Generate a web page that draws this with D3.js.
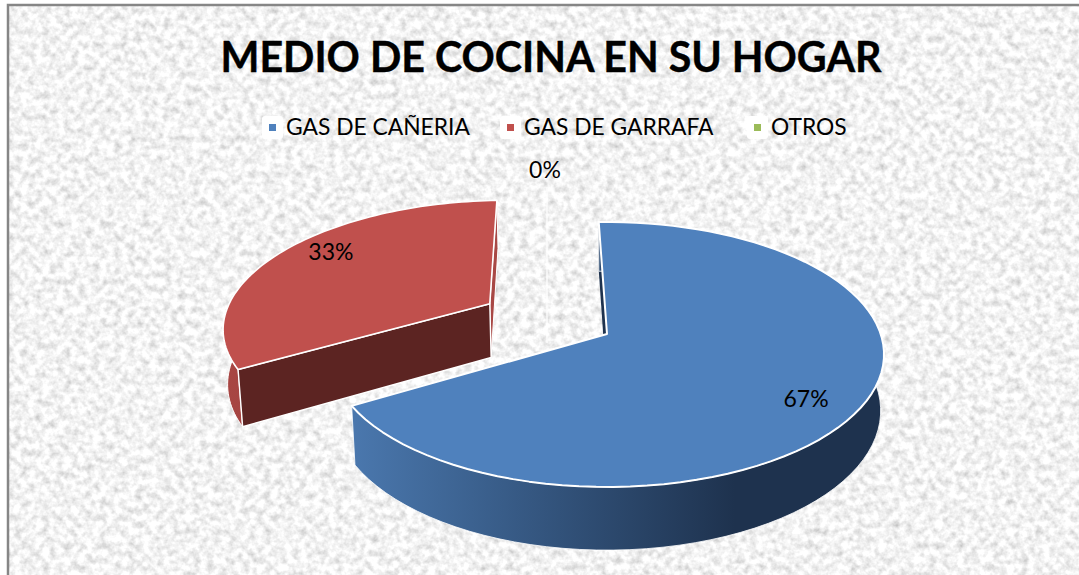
<!DOCTYPE html>
<html><head><meta charset="utf-8">
<script src="https://cdn.jsdelivr.net/npm/d3@7/dist/d3.min.js"></script>
<style>html,body{margin:0;padding:0;background:#fff;overflow:hidden}svg{display:block}text{font-family:Lato,"Open Sans",sans-serif;fill:#000}</style>
</head><body><svg id="c" width="1079" height="575"></svg>
<script>
const title = "MEDIO DE COCINA EN SU HOGAR";
const categories = ["GAS DE CAÑERIA","GAS DE GARRAFA","OTROS"];
const percents = [67,33,0];
const colors = ["#4f81bd","#c0504d","#9bbb59"];
const explode = [0,0.506,0];
const radii = [1,0.988,1];

const W=1079,H=575;
const svg=d3.select("#c");
const defs=svg.append("defs");
const f=defs.append("filter").attr("id","paper").attr("x",0).attr("y",0).attr("width","100%").attr("height","100%");
f.append("feTurbulence").attr("type","fractalNoise").attr("baseFrequency",0.14).attr("numOctaves",3).attr("seed",7);
f.append("feColorMatrix").attr("values","0.75 0 0 0 0.52  0.75 0 0 0 0.52  0.75 0 0 0 0.52  0 0 0 0 1");
const g1=defs.append("linearGradient").attr("id","blueWall").attr("gradientUnits","userSpaceOnUse").attr("x1",355).attr("x2",735).attr("y1",0).attr("y2",0);
g1.append("stop").attr("offset",0).attr("stop-color","#4a77ad");
g1.append("stop").attr("offset",0.35).attr("stop-color","#3a5f8c");
g1.append("stop").attr("offset",1).attr("stop-color","#1e324e");
const g2=defs.append("linearGradient").attr("id","redWall").attr("x1",0).attr("x2",1).attr("y1",0).attr("y2",0);
g2.append("stop").attr("offset",0).attr("stop-color","#a84643");
g2.append("stop").attr("offset",1).attr("stop-color","#8f3a38");

// chart area
svg.append("rect").attr("x",8).attr("y",5).attr("width",W-8).attr("height",H-5).attr("filter","url(#paper)");
svg.append("path").attr("d",`M8,${H}V5H${W}`).attr("fill","none").attr("stroke","#868686").attr("stroke-width",2.5);

// title
svg.append("text").attr("x",551).attr("y",72).attr("text-anchor","middle").attr("font-size",41.2).attr("font-weight",700).attr("stroke","#000").attr("stroke-width",0.4).style("fill","#000").text(title);

// legend
const legendX=d3.scaleOrdinal().domain(categories).range([262,500,747]);
const lg=svg.append("g").selectAll("g").data(categories).join("g").attr("transform",d=>`translate(${legendX(d)},116)`);
lg.append("rect").attr("width",21).attr("height",23).attr("rx",3).attr("fill","#fff");
lg.append("rect").attr("x",7).attr("y",8).attr("width",7).attr("height",7).attr("fill",(d,i)=>colors[i]);
lg.append("text").attr("x",24).attr("y",19).attr("font-size",22.8).text(d=>d);

// perspective pie
const cx=607,cy=334,A=273.7,B=129.3,D=56,k=0.1547,m=0.012;
const project=(X,Y,Z)=>{const w=1-k*Y+m*Z;return [cx+X*A/w,cy+(Y*B+Z*D)/w];};
const pie=d3.pie().sort(null).value(d=>d).startAngle(-2*Math.PI/180).endAngle(358*Math.PI/180);
const arcs=pie(percents);
const offset=(a,i)=>{const mid=(a.startAngle+a.endAngle)/2;return [explode[i]*Math.sin(mid),-explode[i]*Math.cos(mid)];};
const pt=(a,i,ang,r,Z)=>{const o=offset(a,i),R=r*radii[i];return project(o[0]+R*Math.sin(ang),o[1]-R*Math.cos(ang),Z);};
const line=d3.line();
const arcPts=(a,i,from,to,Z)=>d3.range(0,81).map(t=>pt(a,i,from+(to-from)*t/80,1,Z));
const g=svg.append("g").attr("stroke-linejoin","round");
function face(d,fill,sw){return g.append("path").attr("d",d).attr("fill",fill).attr("stroke","#fff").attr("stroke-width",sw);}

// red slice
{const a=arcs[1],i=1,s=a.startAngle,e=a.endAngle;
 const apexT=pt(a,i,s,0,0),apexB=pt(a,i,s,0,1);
 face(line([...arcPts(a,i,s,e,0),...arcPts(a,i,s,e,1).reverse()])+"Z","url(#redWall)",1);
 face(line([pt(a,i,e,1,0),apexT,apexB,pt(a,i,e,1,1)])+"Z","#a84845",1);
 face(line([pt(a,i,s,1,0),apexT,apexB,pt(a,i,s,1,1)])+"Z","#5c2422",1.4);
 face(line([apexT,...arcPts(a,i,s,e,0)])+"Z",colors[1],1.6);
}
// zero slice: a bare white hairline
{const a=arcs[2],i=2,base=pt(a,i,a.startAngle,0,0);
 const x=base[0]-60,y0=base[1]+9;
 g.append("line").attr("x1",x).attr("x2",x).attr("y1",y0).attr("y2",y0-156).attr("stroke","#fff").attr("stroke-width",1.4).attr("opacity",.9);
}
// blue slice
{const a=arcs[0],i=0,s=a.startAngle,e=a.endAngle;
 const apexT=pt(a,i,s,0,0),apexB=pt(a,i,s,0,1);
 face(line([pt(a,i,s,1,0),apexT,apexB,pt(a,i,s,1,1)])+"Z","#1e324e",0);
 face(line([...arcPts(a,i,s,e,0),...arcPts(a,i,s,e,1).reverse()])+"Z","url(#blueWall)",0.8);
 face(line([apexT,...arcPts(a,i,s,e,0)])+"Z",colors[0],2);
}
// data labels
const labelAngle=6*Math.PI/180, labelR=0.82;
arcs.forEach((a,i)=>{
  let p;
  if(percents[i]===0){p=[545,170];}
  else p=pt(a,i,(a.startAngle+a.endAngle)/2+labelAngle,labelR/radii[i],0);
  svg.append("text").attr("x",p[0]).attr("y",p[1]+8).attr("text-anchor","middle").attr("font-size",23).text(percents[i]+"%");
});
</script></body></html>
